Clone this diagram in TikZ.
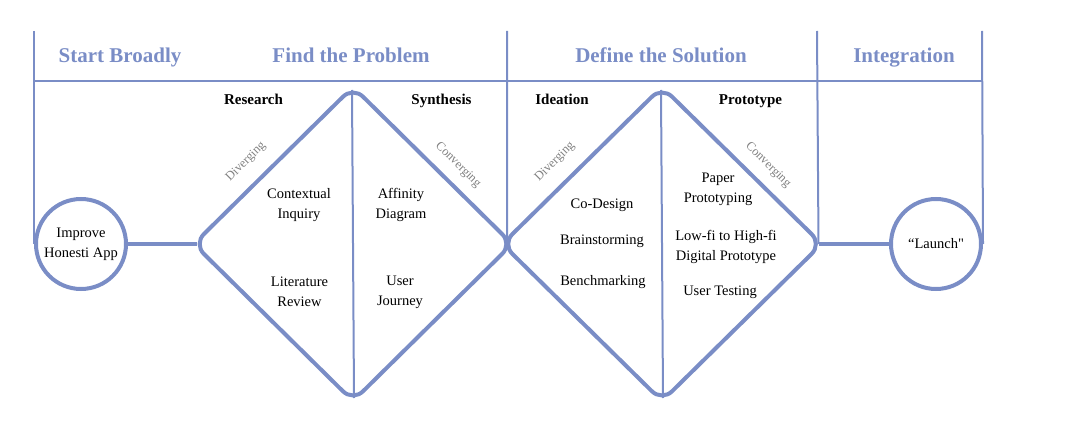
\documentclass[tikz,border=0pt]{standalone}
\usepackage{fontspec}
\setmainfont{Liberation Serif}
\newfontfamily\rawserif{Liberation Serif}[Ligatures=TeXOff]
\usetikzlibrary{shapes.geometric,calc}
\definecolor{flow}{RGB}{122,141,198}
\definecolor{note}{RGB}{128,128,128}

\begin{document}
\begin{tikzpicture}[x=1pt,y=-1pt,
  grid/.style={draw=flow,line width=2pt},
  phase/.style={text=flow,anchor=base,font=\bfseries\fontsize{21}{24}\selectfont},
  stage/.style={anchor=base,font=\bfseries\fontsize{15}{18}\selectfont},
  item/.style={font=\fontsize{14.5}{20}\selectfont,align=center,inner sep=0pt},
  trend/.style={text=note,font=\fontsize{12.5}{14}\selectfont,inner sep=0pt},
  endpoint/.style={circle,draw=flow,line width=4pt,minimum size=90pt,inner sep=0pt,
    align=center,font=\fontsize{14.5}{20}\selectfont},
  phasebox/.style={diamond,draw=flow,line width=4pt,rounded corners=14pt,inner sep=0pt},
  link/.style={draw=flow,line width=4pt},
  split/.style={draw=flow,line width=2pt},
]
\useasboundingbox (0,0) rectangle (1089,422);

% double diamond and its two end points
\node[phasebox,minimum width=320pt,minimum height=316pt] (d1) at (353,244) {};
\node[phasebox,minimum width=321pt,minimum height=316pt] (d2) at (662,244) {};
\node[endpoint] (c1) at (81,244) {\raisebox{-2pt}{\parbox{80pt}{\centering Improve\\Honesti App}}};
\node[endpoint] (c2) at (936,244) {\rawserif “Launch"};

% header grid
\coordinate (g1) at (34,31);
\coordinate (g2) at (507,31);
\coordinate (g3) at (817,31);
\coordinate (g4) at (982,31);
\coordinate (h1) at (34,81);
\coordinate (h2) at (982,81);
\draw[grid] (h1) -- (h2);
\draw[grid] (g1) -- (c1.west);
\draw[grid] (g2) -- ($(d1.east)!0.5!(d2.west)$);
\draw[grid] (g3) -- ($(d2.east)+(-6,0)$);
\draw[grid] (g4) -- (c2.east);

% connectors between end points and diamonds
\draw[link,shorten >=-6pt] (c1) -- (d1.west);
\draw[link,shorten <=-6pt] (d2.east) -- (c2);

% halves of each diamond
\draw[split] ($(d1.north)+(-1,6)$) -- ($(d1.south)+(1,-6)$);
\draw[split] ($(d2.north)+(-1,6)$) -- ($(d2.south)+(1,-6)$);

% phase headings
\node[phase] (p1) at (120,63) {Start Broadly};
\node[phase] (p2) at (351,63) {Find the Problem};
\node[phase] (p3) at (661,63) {Define the Solution};
\node[phase] (p4) at (904,63) {Integration};

% stage labels
\node[stage] (s1) at (253.5,105) {Research};
\node[stage] (s2) at (441.5,105) {Synthesis};
\node[stage] (s3) at (562,105) {Ideation};
\node[stage] (s4) at (750.5,105) {Prototype};

% diverging / converging notes
\node[trend,rotate=45] (v1) at (246,162) {Diverging};
\node[trend,rotate=-45] (w1) at (458,165) {Converging};
\node[trend,rotate=45] (v2) at (555,162) {Diverging};
\node[trend,rotate=-45] (w2) at (768,165) {Converging};

% activities
\node[item] (a1) at (299,205) {Contextual\\Inquiry};
\node[item] (a2) at (299.5,292) {Literature\\Review};
\node[item] (a3) at (401,205) {Affinity\\Diagram};
\node[item] (a4) at (400,292) {User\\Journey};
\node[item] (a5) at (602,205) {Co-Design};
\node[item] (a6) at (602,241) {Brainstorming};
\node[item] (a7) at (603,282) {Benchmarking};
\node[item] (a8) at (718,189) {Paper\\Prototyping};
\node[item] (a9) at (726,246.5) {Low-fi to High-fi\\Digital Prototype};
\node[item] (a10) at (720,292) {User Testing};
\end{tikzpicture}
\end{document}
